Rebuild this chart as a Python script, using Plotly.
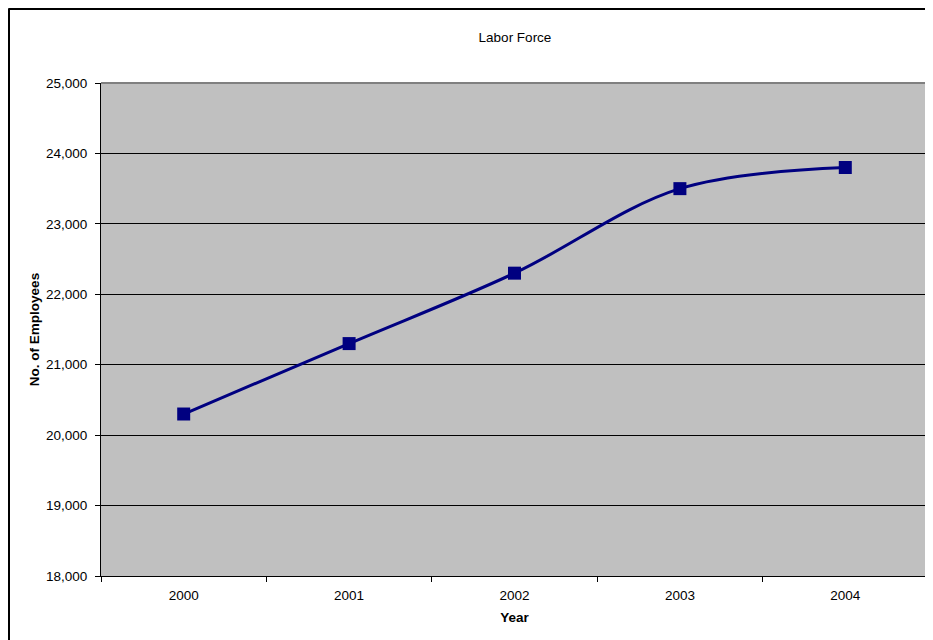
import plotly.graph_objects as go

years = ["2000", "2001", "2002", "2003", "2004"]
employees = [20300, 21300, 22300, 23500, 23800]
y_ticks = [18000, 19000, 20000, 21000, 22000, 23000, 24000, 25000]

# page has an 8px body margin, so figure is drawn from (8,8)
OFF = 8
W, H = 933 - OFF, 640 - OFF
L, R, T, B = 101 - OFF, 5, 83 - OFF, 640 - 576
pw, ph = W - L - R, H - T - B

fig = go.Figure()
fig.add_trace(go.Scatter(
    x=years, y=employees, mode="lines+markers",
    line=dict(color="#000080", width=3, shape="spline", smoothing=1.0),
    marker=dict(symbol="square", size=13, color="#000080"),
    showlegend=False, hoverinfo="x+y",
))

font = "Liberation Sans, Arial, sans-serif"
FS = 13.5
fig.update_layout(
    width=W, height=H,
    margin=dict(l=L, r=R, t=T, b=B),
    paper_bgcolor="white", plot_bgcolor="#C0C0C0",
    font=dict(family=font, size=FS, color="black"),
    title=dict(text="Labor Force", x=(515 - OFF - L) / pw, xref="paper", xanchor="center",
               y=1 - (37 - OFF) / H, yanchor="middle", font=dict(size=FS)),
    xaxis=dict(type="category", tickson="boundaries", ticks="outside", ticklen=5,
               tickcolor="black", showgrid=False, showline=True, linecolor="black",
               linewidth=1, range=[-0.5, 4.5], zeroline=False, ticklabelstandoff=7,
               title=dict(text="<b>Year</b>", standoff=10, font=dict(size=FS))),
    yaxis=dict(range=[18000, 25000], tickvals=y_ticks, tickformat=",", ticks="outside",
               ticklen=5, tickcolor="black", showgrid=True, gridcolor="black", gridwidth=1,
               showline=True, linecolor="black", linewidth=1, zeroline=False,
               ticklabelstandoff=5,
               title=dict(text="<b>No. of Employees</b>", standoff=3, font=dict(size=FS))),
)

# gray plot-area border (top/right)
fig.add_shape(type="line", xref="paper", yref="paper", x0=0, x1=1, y0=1, y1=1,
              line=dict(color="#808080", width=2), layer="below")
fig.add_shape(type="line", xref="paper", yref="paper", x0=1, x1=1, y0=0, y1=1,
              line=dict(color="#808080", width=2), layer="below")
# outer chart frame: only its left and top edges are inside the page
fx0 = (0.5 - L) / pw
fy1 = 1 + (T - 0.5) / ph
fig.add_shape(type="line", xref="paper", yref="paper", x0=fx0, x1=(W + 5 - L) / pw,
              y0=fy1, y1=fy1, line=dict(color="black", width=3))
fig.add_shape(type="line", xref="paper", yref="paper", x0=fx0, x1=fx0,
              y0=1 + (T - (H + 5)) / ph, y1=fy1, line=dict(color="black", width=3))

fig.write_html("out.html")
